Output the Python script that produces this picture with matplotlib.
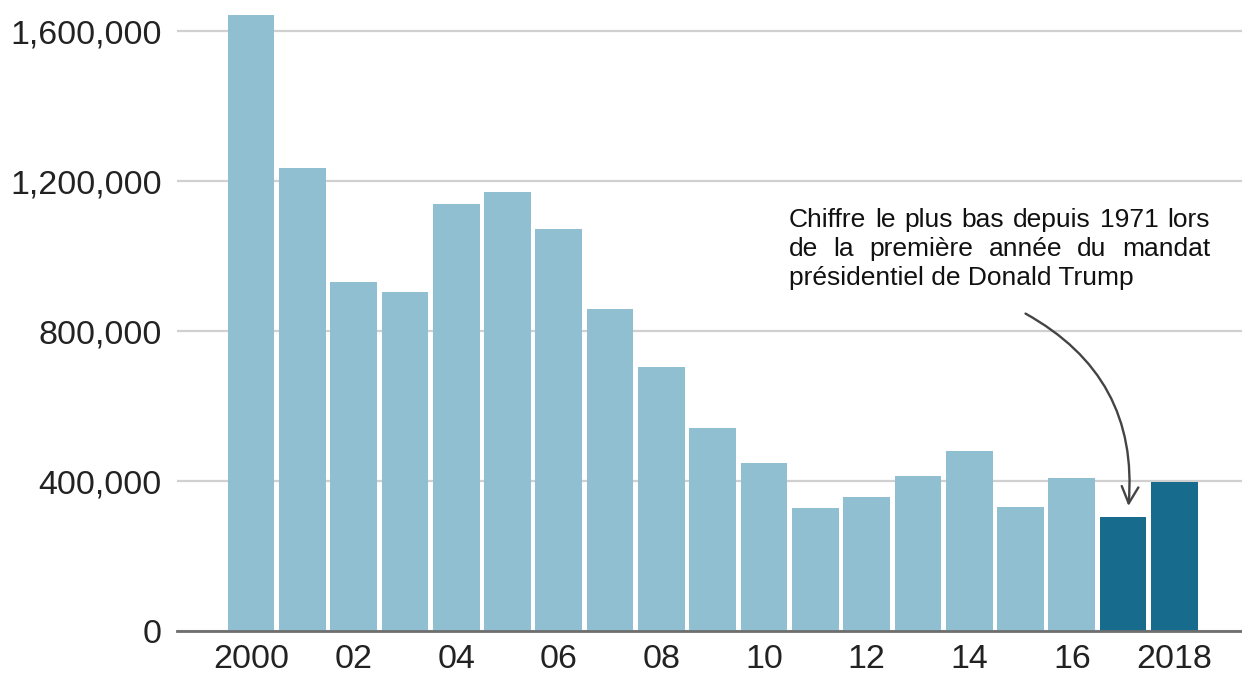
import matplotlib
matplotlib.use("Agg")
import matplotlib.pyplot as plt
from matplotlib.ticker import FuncFormatter

years = list(range(2000, 2019))
apprehensions = [
    1643679, 1235718, 929809, 905065, 1139282, 1171396, 1071972, 858638,
    705005, 540865, 447731, 327577, 356873, 414397, 479371, 331333,
    408870, 303916, 396579,
]
highlight_years = [2017, 2018]
tick_years = [2000, 2002, 2004, 2006, 2008, 2010, 2012, 2014, 2016, 2018]
tick_labels = ["2000", "02", "04", "06", "08", "10", "12", "14", "16", "2018"]
y_ticks = [0, 400000, 800000, 1200000, 1600000]
note_lines = [
    "Chiffre le plus bas depuis 1971 lors",
    "de la première année du mandat",
    "présidentiel de Donald Trump",
]

LIGHT = "#8fbfd0"
DARK = "#176b8c"
SANS = ["Liberation Sans", "DejaVu Sans"]

W, H = 1242, 673
fig = plt.figure(figsize=(W / 100, H / 100), dpi=100)
ax = fig.add_axes([177 / W, 42 / H, (W - 177) / W, 631 / H])

colors = [DARK if y in highlight_years else LIGHT for y in years]
ax.bar(years, apprehensions, width=0.91, color=colors, zorder=3)

# 51.3 px per year, 2000 centred at x=251 px
ax.set_xlim(2000 - 74 / 51.3, 2000 + 991 / 51.3)
ax.set_ylim(0, 1682667)

ax.set_yticks(y_ticks)
ax.yaxis.set_major_formatter(FuncFormatter(lambda v, _: f"{int(v):,}"))
ax.set_xticks(tick_years)
ax.set_xticklabels(tick_labels)
ax.tick_params(axis="both", length=0, labelsize=24.5, colors="#222222")
ax.tick_params(axis="y", pad=11)
ax.tick_params(axis="x", pad=9)
for lab in ax.get_xticklabels() + ax.get_yticklabels():
    lab.set_fontfamily(SANS)

ax.grid(axis="y", color="#d0d0d0", linewidth=1.6, zorder=0)
for side in ["top", "right", "left"]:
    ax.spines[side].set_visible(False)
ax.spines["bottom"].set_color("#6e6e6e")
ax.spines["bottom"].set_linewidth(2)
ax.spines["bottom"].set_zorder(4)

# justified note: first lines spread across the full block width
renderer = fig.canvas.get_renderer()
left_px, right_px = 789, 1210
base_px = [227, 256, 285]
note_size = 19
for i, line in enumerate(note_lines):
    words = line.split(" ")
    y_fig = 1 - base_px[i] / H
    if i == len(note_lines) - 1:
        fig.text(left_px / W, y_fig, line, fontsize=note_size, family=SANS,
                 color="#111111", va="baseline", ha="left")
        continue
    arts = [fig.text(0, y_fig, w, fontsize=note_size, family=SANS,
                     color="#111111", va="baseline", ha="left") for w in words]
    widths = [a.get_window_extent(renderer).width for a in arts]
    gap = (right_px - left_px - sum(widths)) / (len(words) - 1)
    x = left_px
    for a, wd in zip(arts, widths):
        a.set_x(x / W)
        x += wd + gap

ax.annotate(
    "", xy=(2017.1, 326000), xytext=(2015.05, 850000),
    arrowprops=dict(arrowstyle="->,head_length=1.2,head_width=0.6",
                    color="#444444", lw=1.7,
                    connectionstyle="arc3,rad=-0.33"),
    zorder=5,
)

fig.savefig("out.png", dpi=100, facecolor="white")
